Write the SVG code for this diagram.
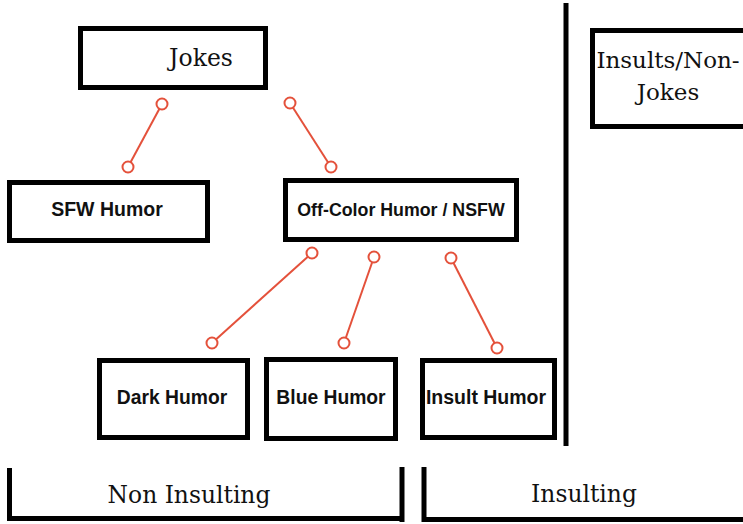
<svg xmlns="http://www.w3.org/2000/svg" width="743" height="524" viewBox="0 0 743 524">
<defs>
<style>
.box{fill:#fff;stroke:#000;stroke-width:5}
.rule{stroke:#000;stroke-width:5;fill:none}
.serif{font-family:"DejaVu Serif","Liberation Serif",serif;fill:#111;text-anchor:middle}
.sans{font-family:"Liberation Sans",Arial,sans-serif;font-weight:bold;fill:#111;text-anchor:middle}
.conn line{stroke:#e4513b;stroke-width:2}
.conn circle{fill:#fff;stroke:#e4513b;stroke-width:2}
</style>
</defs>
<rect width="743" height="524" fill="#fff"/>
<g id="divider">
<line class="rule" x1="566" y1="3" x2="566" y2="446"/>
</g>
<g id="jokes">
<rect class="box" x="80.5" y="28.5" width="185" height="59"/>
<text class="serif" x="201" y="66" font-size="23.5">Jokes</text>
</g>
<g id="insults-nonjokes">
<rect class="box" x="592.5" y="30.5" width="160" height="96"/>
<text class="serif" x="668" y="68" font-size="23">Insults/Non-</text>
<text class="serif" x="668" y="100" font-size="23">Jokes</text>
</g>
<g id="sfw">
<rect class="box" x="9.5" y="182.5" width="198" height="58"/>
<text class="sans" x="107" y="216" font-size="19.5">SFW Humor</text>
</g>
<g id="offcolor">
<rect class="box" x="285.5" y="180.5" width="231" height="59"/>
<text class="sans" x="401" y="216" font-size="17.8">Off-Color Humor / NSFW</text>
</g>
<g id="dark">
<rect class="box" x="99.5" y="360.5" width="148" height="77"/>
<text class="sans" x="172" y="404" font-size="19.3">Dark Humor</text>
</g>
<g id="blue">
<rect class="box" x="266.5" y="359.5" width="129" height="79"/>
<text class="sans" x="331" y="404" font-size="19.3">Blue Humor</text>
</g>
<g id="insult">
<rect class="box" x="422.5" y="360.5" width="132" height="77"/>
<text class="sans" x="486" y="404" font-size="19.5">Insult Humor</text>
</g>
<g id="non-insulting">
<path class="rule" d="M9.5 468 V518.5 H400"/>
<line class="rule" x1="402" y1="467" x2="402" y2="522"/>
<text class="serif" x="189" y="503" font-size="23.4">Non Insulting</text>
</g>
<g id="insulting">
<path class="rule" d="M424 467 V519.5 H743"/>
<text class="serif" x="584" y="502" font-size="23.4">Insulting</text>
</g>
<g id="connectors" class="conn">
<line x1="162" y1="104" x2="128" y2="167"/>
<line x1="290" y1="103" x2="331" y2="167"/>
<line x1="312" y1="253" x2="212" y2="343"/>
<line x1="374" y1="257" x2="344" y2="343"/>
<line x1="451" y1="258" x2="497" y2="348"/>
<circle cx="162" cy="104" r="5.5"/>
<circle cx="128" cy="167" r="5.5"/>
<circle cx="290" cy="103" r="5.5"/>
<circle cx="331" cy="167" r="5.5"/>
<circle cx="312" cy="253" r="5.5"/>
<circle cx="212" cy="343" r="5.5"/>
<circle cx="374" cy="257" r="5.5"/>
<circle cx="344" cy="343" r="5.5"/>
<circle cx="451" cy="258" r="5.5"/>
<circle cx="497" cy="348" r="5.5"/>
</g>
</svg>
